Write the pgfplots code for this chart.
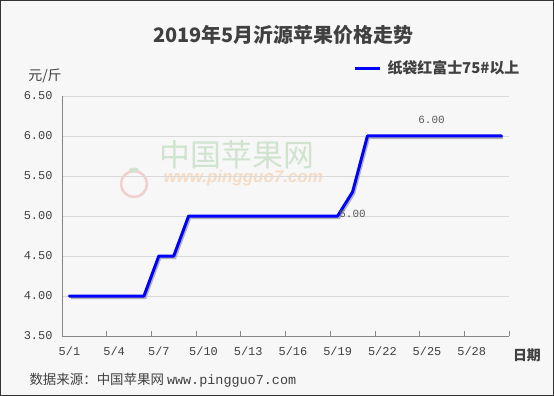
\documentclass[border=0pt]{standalone}
\usepackage{pgfplots}
\pgfplotsset{compat=1.18}
\usetikzlibrary{backgrounds}
\usepackage{fontspec}
\setmainfont{Noto Sans CJK SC}
\newfontfamily\cjk{Noto Sans CJK SC}
\newfontfamily\mono{Liberation Mono}
\newfontfamily\wsans{Liberation Sans}
\definecolor{bgc}{HTML}{F7F7F7}
\definecolor{gridc}{HTML}{D9D9D9}
\definecolor{axc}{HTML}{868686}
\definecolor{txt}{HTML}{404040}
\definecolor{lbl}{HTML}{595959}
\definecolor{wmg}{HTML}{CFE3CF}
\definecolor{wmo}{HTML}{F6DCC4}
\definecolor{wmr}{HTML}{F2CFCF}
\pgfplotstableread{
day price
1 4.0
2 4.0
3 4.0
4 4.0
5 4.0
6 4.0
7 4.5
8 4.5
9 5.0
10 5.0
11 5.0
12 5.0
13 5.0
14 5.0
15 5.0
16 5.0
17 5.0
18 5.0
19 5.0
20 5.3
21 6.0
22 6.0
23 6.0
24 6.0
25 6.0
26 6.0
27 6.0
28 6.0
29 6.0
30 6.0
}\pricetable
\begin{document}
\begin{tikzpicture}
\begin{axis}[
  width=447bp, height=240bp, scale only axis,
  xmin=0.5, xmax=30.5, ymin=3.5, ymax=6.5,
  axis x line*=bottom, axis y line*=left,
  axis line style={axc, line width=0.8bp},
  tick align=inside,
  xtick={1,4,7,10,13,16,19,22,25,28},
  xticklabels={5/1,5/4,5/7,5/10,5/13,5/16,5/19,5/22,5/25,5/28},
  extra x ticks={0.5,3.5,6.5,9.5,12.5,15.5,18.5,21.5,24.5,27.5,30.5},
  extra x tick labels={},
  extra x tick style={major tick length=5bp, tick align=inside, tick style={axc, line width=0.8bp}},
  ytick={3.5,4,4.5,5,5.5,6,6.5},
  yticklabel={\pgfmathprintnumber[fixed,fixed zerofill,precision=2]{\tick}},
  /pgf/number format/assume math mode=true,
  ymajorgrids, major grid style={gridc, line width=0.8bp},
  major tick length=0bp,
  tick label style={font=\mono\fontsize{12}{12}\selectfont, text=txt},
  xticklabel style={yshift=-7bp},
  yticklabel style={xshift=-6bp},
  clip=false,
]
\coordinate (BL) at (rel axis cs:-0.138702,-0.25);
\coordinate (TR) at (rel axis cs:1.100671,1.4);
\addplot[black!30, line width=3bp, xshift=1.2bp, yshift=-1.5bp] table[x=day,y=price]{\pricetable};
\addplot[blue, line width=3bp, line join=round, line cap=round] table[x=day,y=price]{\pricetable};
\node[lbl, font=\mono\fontsize{11}{11}\selectfont] at (axis cs:20,5.03) {5.00};
\node[lbl, font=\mono\fontsize{11}{11}\selectfont] at (axis cs:25.3,6.2) {6.00};
\end{axis}
\begin{scope}[on background layer]
\fill[bgc] (BL) rectangle (TR);
\begin{scope}[shift={(BL)}, x=1bp, y=1bp]
\draw[wmr, line width=2.5bp] (134,212) circle (13);
\fill[wmg] (134,226) ellipse (5 and 2.5);
\node[wmg, font=\cjk\fontsize{31}{31}\selectfont, anchor=west] at (156,241) {中国苹果网};
\node[wmo, font=\wsans\bfseries\itshape\fontsize{17}{17}\selectfont, anchor=west] at (160,218) {www.pingguo7.com};
\end{scope}
\end{scope}
\begin{scope}[shift={(BL)}, x=1bp, y=1bp]
\draw[black!80, line width=1bp] (0.5,0.5) rectangle (553.5,395.5);
\node[txt, font=\cjk\bfseries\fontsize{20}{20}\selectfont] at (283,361) {2019年5月沂源苹果价格走势};
\draw[blue, line width=3bp] (355,328) -- (380,328);
\node[txt, font=\cjk\bfseries\fontsize{15}{15}\selectfont, anchor=west] at (384,328) {纸袋红富士75\#以上};
\node[txt, font=\cjk\fontsize{14}{14}\selectfont] at (45,320) {元/斤};
\node[txt, font=\cjk\bfseries\fontsize{14}{14}\selectfont] at (527,41) {日期};
\node[txt, font=\cjk\fontsize{13.5}{14}\selectfont, anchor=west] at (26,16) {数据来源：中国苹果网 {\mono www.pingguo7.com}};
\end{scope}
\end{tikzpicture}
\end{document}
